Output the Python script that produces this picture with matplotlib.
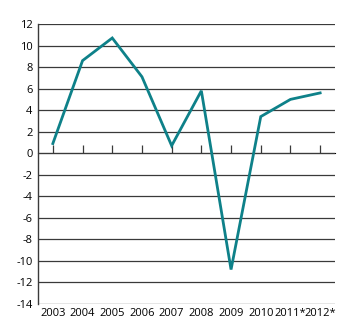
import matplotlib
matplotlib.use("Agg")
import matplotlib.pyplot as plt

years = ["2003", "2004", "2005", "2006", "2007", "2008", "2009", "2010", "2011*", "2012*"]
values = [0.9, 8.6, 10.7, 7.1, 0.7, 5.8, -10.8, 3.4, 5.0, 5.6]
yticks = list(range(-14, 13, 2))

plt.rcParams['font.family'] = ['Open Sans', 'DejaVu Sans']

fig = plt.figure(figsize=(3.5, 3.24), dpi=100)
ax = fig.add_axes([38/350, 20/324, 297/350, 280/324])

x = list(range(len(years)))
ax.set_xlim(-0.5, len(years) - 0.5)
ax.set_ylim(-14, 12)

for t in yticks:
    ax.axhline(t, color="#3a3a3a", lw=0.9, zorder=1)

ax.plot(x, values, color="#0e8189", lw=2.0, zorder=3, solid_joinstyle='miter')

ax.set_yticks(yticks)
ax.set_yticklabels([str(t) for t in yticks], fontsize=8)
ax.set_xticks(x)
ax.set_xticklabels(years, fontsize=8)
ax.tick_params(axis='x', length=0, pad=3)
ax.tick_params(axis='y', length=0, pad=4)

for s in ['top', 'right', 'bottom']:
    ax.spines[s].set_visible(False)
ax.spines['left'].set_color("#3a3a3a")
ax.spines['left'].set_linewidth(1.0)

sec = ax.secondary_xaxis(14/26)
sec.set_xticks(x)
sec.set_xticklabels([])
sec.tick_params(axis='x', direction='out', length=6, width=0.9, color="#3a3a3a")
sec.spines['bottom'].set_visible(False)

fig.savefig("out.png", dpi=100)
